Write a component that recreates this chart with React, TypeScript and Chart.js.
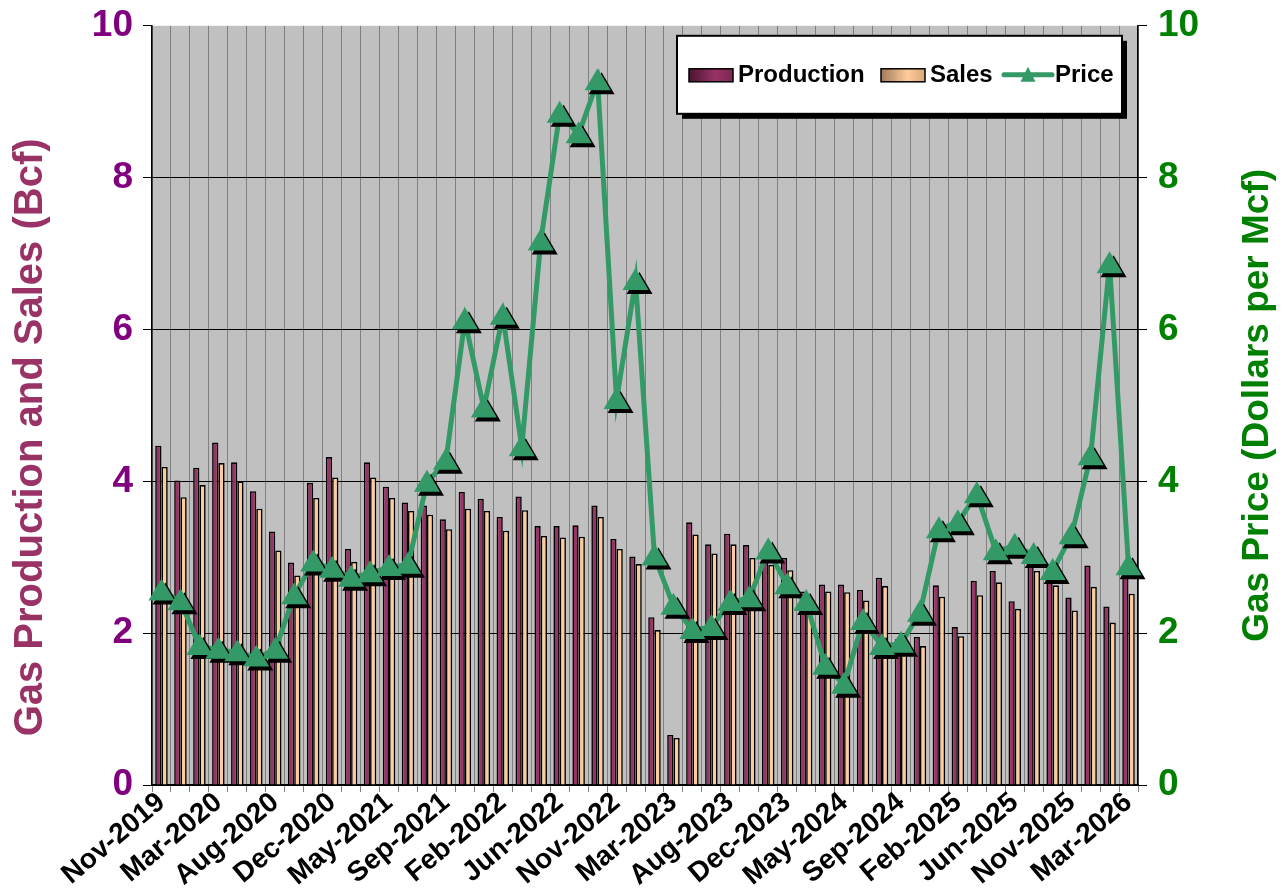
import React, { useEffect, useRef } from 'react';
import { Chart, registerables } from 'chart.js';

Chart.register(...registerables);

const FONT = '"Liberation Sans", Arial, Helvetica, sans-serif';

// Tick labels shown on the x axis (one every third category)
const tickLabels = [
  'Nov-2019', 'Mar-2020', 'Aug-2020', 'Dec-2020', 'May-2021', 'Sep-2021',
  'Feb-2022', 'Jun-2022', 'Nov-2022', 'Mar-2023', 'Aug-2023', 'Dec-2023',
  'May-2024', 'Sep-2024', 'Feb-2025', 'Jun-2025', 'Nov-2025', 'Mar-2026',
];

// Gas production (Bcf)
const production = [
  4.47, 4.01, 4.18, 4.51, 4.25, 3.87, 3.34, 2.93, 3.98, 4.32,
  3.11, 4.25, 3.93, 3.72, 3.68, 3.50, 3.86, 3.77, 3.53, 3.80,
  3.41, 3.41, 3.42, 3.68, 3.24, 3.01, 2.21, 0.66, 3.46, 3.17,
  3.31, 3.16, 3.05, 2.99, 2.55, 2.64, 2.64, 2.57, 2.73, 1.92,
  1.95, 2.63, 2.08, 2.69, 2.82, 2.42, 2.92, 2.72, 2.47, 2.89,
  2.35, 2.80,
];

// Gas sales (Bcf)
const sales = [
  4.19, 3.79, 3.95, 4.24, 4.00, 3.64, 3.09, 2.76, 3.78, 4.05,
  2.94, 4.05, 3.78, 3.61, 3.56, 3.37, 3.64, 3.61, 3.35, 3.62,
  3.28, 3.26, 3.27, 3.53, 3.11, 2.91, 2.04, 0.62, 3.30, 3.05,
  3.17, 2.99, 2.90, 2.83, 2.45, 2.55, 2.54, 2.43, 2.62, 1.82,
  1.83, 2.48, 1.96, 2.50, 2.67, 2.32, 2.82, 2.63, 2.30, 2.61,
  2.14, 2.52,
];

// Gas price (Dollars per Mcf)
const price = [
  2.55, 2.42, 1.83, 1.78, 1.75, 1.68, 1.78, 2.50, 2.93, 2.85,
  2.73, 2.79, 2.87, 2.90, 3.98, 4.27, 6.12, 4.96, 6.18, 4.45,
  7.16, 8.84, 8.57, 9.27, 5.07, 6.64, 3.01, 2.36, 2.04, 2.08,
  2.41, 2.46, 3.09, 2.63, 2.41, 1.57, 1.32, 2.16, 1.83, 1.86,
  2.27, 3.37, 3.46, 3.83, 3.08, 3.15, 3.03, 2.82, 3.29, 4.33,
  6.86, 2.88,
];

const categories = production.map((_, i) => (i % 3 === 0 ? tickLabels[i / 3] : ''));

const PROD_COLOR = '#993366';
const SALES_COLOR = '#FFCC99';
const PRICE_COLOR = '#339966';

function triangle(ctx: CanvasRenderingContext2D, x: number, y: number, w: number, up: number, down: number) {
  ctx.beginPath();
  ctx.moveTo(x, y - up);
  ctx.lineTo(x + w / 2, y + down);
  ctx.lineTo(x - w / 2, y + down);
  ctx.closePath();
  ctx.fill();
}

const backgroundPlugin = {
  id: 'plotBackground',
  beforeDraw(chart: any) {
    const { ctx, chartArea } = chart;
    ctx.save();
    ctx.fillStyle = '#C0C0C0';
    ctx.fillRect(chartArea.left, chartArea.top, chartArea.right - chartArea.left, chartArea.bottom - chartArea.top);
    ctx.restore();
  },
};

const markerPlugin = {
  id: 'priceMarkers',
  afterDatasetsDraw(chart: any) {
    const meta = chart.getDatasetMeta(2);
    const ctx = chart.ctx as CanvasRenderingContext2D;
    ctx.save();
    ctx.fillStyle = '#000000';
    meta.data.forEach((pt: any) => triangle(ctx, pt.x + 4, pt.y + 4, 26, 13, 9));
    ctx.fillStyle = PRICE_COLOR;
    meta.data.forEach((pt: any) => triangle(ctx, pt.x, pt.y, 26, 13, 9));
    ctx.restore();
  },
};

const titlesPlugin = {
  id: 'axisTitles',
  afterDraw(chart: any) {
    const { ctx, chartArea } = chart;
    const midY = (chartArea.top + chartArea.bottom) / 2;
    ctx.save();
    ctx.font = `bold 40px ${FONT}`;
    ctx.textAlign = 'center';
    ctx.textBaseline = 'middle';
    ctx.fillStyle = PROD_COLOR;
    ctx.translate(31, midY + 32);
    ctx.rotate(-Math.PI / 2);
    ctx.fillText('Gas Production and Sales (Bcf)', 0, 0);
    ctx.restore();
    ctx.save();
    ctx.font = `bold 37px ${FONT}`;
    ctx.textAlign = 'center';
    ctx.textBaseline = 'middle';
    ctx.fillStyle = '#008000';
    ctx.translate(chart.width - 29, midY);
    ctx.rotate(-Math.PI / 2);
    ctx.fillText('Gas Price (Dollars per Mcf)', 0, 0);
    ctx.restore();
  },
};

const legendPlugin = {
  id: 'boxLegend',
  afterDraw(chart: any) {
    const { ctx, chartArea } = chart;
    const ds = chart.data.datasets;
    const bw = 445;
    const bh = 78;
    const bx = chartArea.right - 16 - bw;
    const by = chartArea.top + 10;
    const cy = by + bh / 2;
    ctx.save();
    // shadow
    ctx.fillStyle = '#000';
    ctx.fillRect(bx + 5, by + 5, bw, bh);
    ctx.fillStyle = '#fff';
    ctx.fillRect(bx, by, bw, bh);
    ctx.lineWidth = 2;
    ctx.strokeStyle = '#000';
    ctx.strokeRect(bx, by, bw, bh);

    ctx.font = `bold 24px ${FONT}`;
    ctx.textBaseline = 'middle';
    ctx.textAlign = 'left';

    // Production swatch
    let x = bx + 12;
    let g = ctx.createLinearGradient(x, 0, x + 44, 0);
    g.addColorStop(0, '#4a1530');
    g.addColorStop(0.6, PROD_COLOR);
    g.addColorStop(1, '#7a2850');
    ctx.fillStyle = g;
    ctx.fillRect(x, cy - 6, 44, 13);
    ctx.lineWidth = 1.5;
    ctx.strokeRect(x, cy - 6, 44, 13);
    ctx.fillStyle = '#000';
    ctx.fillText(ds[0].label, x + 49, cy + 1);

    // Sales swatch
    x = bx + 204;
    g = ctx.createLinearGradient(x, 0, x + 44, 0);
    g.addColorStop(0, '#a07a5a');
    g.addColorStop(0.6, SALES_COLOR);
    g.addColorStop(1, '#d9a87a');
    ctx.fillStyle = g;
    ctx.fillRect(x, cy - 6, 44, 13);
    ctx.strokeRect(x, cy - 6, 44, 13);
    ctx.fillStyle = '#000';
    ctx.fillText(ds[1].label, x + 49, cy + 1);

    // Price swatch
    x = bx + 327;
    ctx.strokeStyle = PRICE_COLOR;
    ctx.lineWidth = 5;
    ctx.lineCap = 'round';
    ctx.beginPath();
    ctx.moveTo(x, cy);
    ctx.lineTo(x + 48, cy);
    ctx.stroke();
    ctx.fillStyle = PRICE_COLOR;
    triangle(ctx, x + 24, cy + 1, 15, 9, 6);
    ctx.fillStyle = '#000';
    ctx.fillText(ds[2].label, x + 51, cy + 1);
    ctx.restore();
  },
};

export default function App() {
  const canvasRef = useRef<HTMLCanvasElement | null>(null);

  useEffect(() => {
    if (!canvasRef.current) return;
    const chart = new Chart(canvasRef.current, {
      type: 'bar',
      data: {
        labels: categories,
        datasets: [
          {
            type: 'bar',
            label: 'Production',
            data: production,
            backgroundColor: PROD_COLOR,
            borderColor: '#000',
            borderWidth: 1.6,
            yAxisID: 'y',
            order: 1,
            categoryPercentage: 0.66,
            barPercentage: 1.0,
          },
          {
            type: 'bar',
            label: 'Sales',
            data: sales,
            backgroundColor: SALES_COLOR,
            borderColor: '#000',
            borderWidth: 1.6,
            yAxisID: 'y',
            order: 1,
            categoryPercentage: 0.66,
            barPercentage: 1.0,
          },
          {
            type: 'line',
            label: 'Price',
            data: price,
            borderColor: PRICE_COLOR,
            backgroundColor: PRICE_COLOR,
            borderWidth: 5,
            pointRadius: 0,
            tension: 0,
            yAxisID: 'y1',
            order: 0,
          },
        ],
      } as any,
      options: {
        animation: false,
        responsive: true,
        maintainAspectRatio: false,
        layout: { padding: { top: 25, left: 0, right: 0, bottom: 0 } },
        plugins: {
          legend: { display: false },
          tooltip: { enabled: false },
        },
        scales: {
          x: {
            offset: true,
            grid: {
              offset: true,
              color: '#808080',
              lineWidth: 1,
              tickLength: 7,
              tickColor: '#808080',
            },
            border: { color: '#000', width: 1.5 },
            ticks: {
              autoSkip: false,
              minRotation: 40,
              maxRotation: 40,
              padding: -6,
              color: '#000',
              font: { family: FONT, size: 28, weight: 'bold' },
            },
            afterFit: (scale: any) => { scale.height = 107; },
          },
          y: {
            position: 'left',
            min: 0,
            max: 10,
            ticks: {
              stepSize: 2,
              padding: 10,
              color: '#800080',
              font: { family: FONT, size: 37, weight: 'bold', lineHeight: 0.8 },
            },
            grid: {
              color: (c: any) => (c.tick && c.tick.value === 10 ? 'rgba(0,0,0,0)' : '#000'),
              tickColor: '#000',
              tickLength: 9,
              lineWidth: 1,
            },
            border: { color: '#000', width: 1.5 },
            afterFit: (scale: any) => { scale.width = 152; },
          },
          y1: {
            position: 'right',
            min: 0,
            max: 10,
            ticks: {
              stepSize: 2,
              padding: 11,
              color: '#008000',
              font: { family: FONT, size: 37, weight: 'bold', lineHeight: 0.8 },
            },
            grid: {
              drawOnChartArea: false,
              tickColor: '#000',
              tickLength: 9,
            },
            border: { color: '#000', width: 1.5 },
            afterFit: (scale: any) => { scale.width = 149; },
          },
        },
      } as any,
      plugins: [backgroundPlugin, markerPlugin, titlesPlugin, legendPlugin],
    });
    return () => chart.destroy();
  }, []);

  return (
    <div style={{ position: 'fixed', left: 0, top: 0, width: 1287, height: 892 }}>
      <canvas ref={canvasRef} />
    </div>
  );
}
